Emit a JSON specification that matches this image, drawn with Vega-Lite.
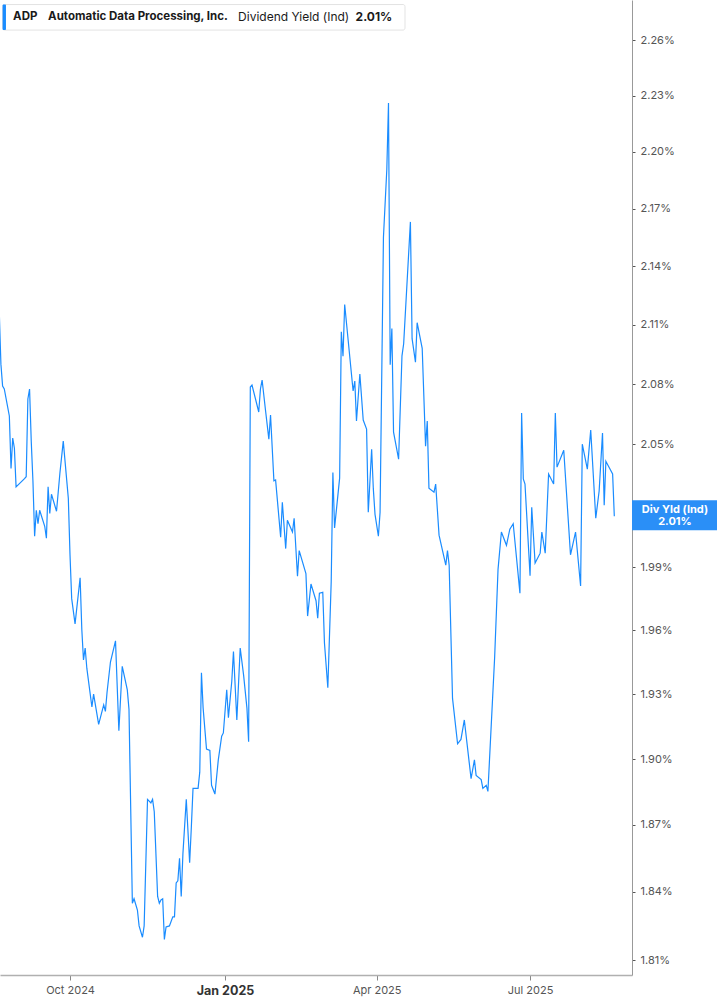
{
  "$schema": "https://vega.github.io/schema/vega-lite/v6.json",
  "width": 632,
  "height": 975,
  "autosize": {"type": "none"},
  "padding": {"left": 0, "top": 0, "right": 85, "bottom": 30},
  "background": "white",
  "config": {
    "view": {"stroke": null},
    "font": "Inter",
    "axis": {"labelFont": "Inter", "grid": false}
  },
  "data": {
    "values": [
      {"d": "2024-08-20", "v": 2.117}, {"d": "2024-08-21", "v": 2.090}, {"d": "2024-08-22", "v": 2.079},
      {"d": "2024-08-23", "v": 2.0775}, {"d": "2024-08-26", "v": 2.064}, {"d": "2024-08-27", "v": 2.038},
      {"d": "2024-08-28", "v": 2.053}, {"d": "2024-08-29", "v": 2.048}, {"d": "2024-08-30", "v": 2.029},
      {"d": "2024-09-04", "v": 2.033}, {"d": "2024-09-05", "v": 2.034}, {"d": "2024-09-06", "v": 2.0725},
      {"d": "2024-09-07", "v": 2.0775}, {"d": "2024-09-08", "v": 2.0515}, {"d": "2024-09-09", "v": 2.032},
      {"d": "2024-09-10", "v": 2.005}, {"d": "2024-09-11", "v": 2.0176}, {"d": "2024-09-12", "v": 2.011},
      {"d": "2024-09-13", "v": 2.0176}, {"d": "2024-09-16", "v": 2.0098}, {"d": "2024-09-17", "v": 2.004},
      {"d": "2024-09-18", "v": 2.029}, {"d": "2024-09-19", "v": 2.016}, {"d": "2024-09-20", "v": 2.0254},
      {"d": "2024-09-23", "v": 2.0171}, {"d": "2024-09-25", "v": 2.0357}, {"d": "2024-09-27", "v": 2.0515},
      {"d": "2024-09-30", "v": 2.0234}, {"d": "2024-10-01", "v": 1.996}, {"d": "2024-10-02", "v": 1.975},
      {"d": "2024-10-04", "v": 1.963}, {"d": "2024-10-07", "v": 1.985}, {"d": "2024-10-08", "v": 1.9605},
      {"d": "2024-10-09", "v": 1.946}, {"d": "2024-10-10", "v": 1.9516}, {"d": "2024-10-11", "v": 1.942},
      {"d": "2024-10-14", "v": 1.924}, {"d": "2024-10-15", "v": 1.930}, {"d": "2024-10-18", "v": 1.916},
      {"d": "2024-10-21", "v": 1.925}, {"d": "2024-10-22", "v": 1.922}, {"d": "2024-10-23", "v": 1.931},
      {"d": "2024-10-25", "v": 1.945}, {"d": "2024-10-28", "v": 1.955}, {"d": "2024-10-30", "v": 1.913},
      {"d": "2024-11-01", "v": 1.943}, {"d": "2024-11-04", "v": 1.932}, {"d": "2024-11-05", "v": 1.923},
      {"d": "2024-11-07", "v": 1.835}, {"d": "2024-11-08", "v": 1.837}, {"d": "2024-11-10", "v": 1.832},
      {"d": "2024-11-11", "v": 1.825}, {"d": "2024-11-13", "v": 1.820}, {"d": "2024-11-14", "v": 1.825},
      {"d": "2024-11-16", "v": 1.8816}, {"d": "2024-11-18", "v": 1.880}, {"d": "2024-11-19", "v": 1.8816},
      {"d": "2024-11-20", "v": 1.876}, {"d": "2024-11-22", "v": 1.838}, {"d": "2024-11-23", "v": 1.835},
      {"d": "2024-11-24", "v": 1.8365}, {"d": "2024-11-25", "v": 1.837}, {"d": "2024-11-26", "v": 1.819},
      {"d": "2024-11-27", "v": 1.8245}, {"d": "2024-11-29", "v": 1.825}, {"d": "2024-12-01", "v": 1.829},
      {"d": "2024-12-02", "v": 1.829}, {"d": "2024-12-03", "v": 1.844}, {"d": "2024-12-04", "v": 1.845},
      {"d": "2024-12-05", "v": 1.855}, {"d": "2024-12-06", "v": 1.838}, {"d": "2024-12-07", "v": 1.857},
      {"d": "2024-12-09", "v": 1.8816}, {"d": "2024-12-11", "v": 1.853}, {"d": "2024-12-12", "v": 1.869},
      {"d": "2024-12-13", "v": 1.8866}, {"d": "2024-12-16", "v": 1.8866}, {"d": "2024-12-17", "v": 1.894},
      {"d": "2024-12-18", "v": 1.940}, {"d": "2024-12-19", "v": 1.9235}, {"d": "2024-12-21", "v": 1.9046},
      {"d": "2024-12-23", "v": 1.904}, {"d": "2024-12-24", "v": 1.888}, {"d": "2024-12-26", "v": 1.884},
      {"d": "2024-12-28", "v": 1.8996}, {"d": "2024-12-30", "v": 1.9105}, {"d": "2024-12-31", "v": 1.912},
      {"d": "2025-01-02", "v": 1.932}, {"d": "2025-01-03", "v": 1.919}, {"d": "2025-01-05", "v": 1.936},
      {"d": "2025-01-06", "v": 1.950}, {"d": "2025-01-08", "v": 1.918}, {"d": "2025-01-10", "v": 1.9516},
      {"d": "2025-01-12", "v": 1.939}, {"d": "2025-01-14", "v": 1.9235}, {"d": "2025-01-15", "v": 1.908},
      {"d": "2025-01-16", "v": 2.0785}, {"d": "2025-01-17", "v": 2.0795}, {"d": "2025-01-21", "v": 2.066},
      {"d": "2025-01-22", "v": 2.0775}, {"d": "2025-01-23", "v": 2.082}, {"d": "2025-01-25", "v": 2.067},
      {"d": "2025-01-27", "v": 2.0525}, {"d": "2025-01-28", "v": 2.0645}, {"d": "2025-01-30", "v": 2.032},
      {"d": "2025-01-31", "v": 2.0324}, {"d": "2025-02-03", "v": 2.0045}, {"d": "2025-02-04", "v": 2.0215},
      {"d": "2025-02-06", "v": 1.999}, {"d": "2025-02-07", "v": 2.0127}, {"d": "2025-02-10", "v": 2.007},
      {"d": "2025-02-11", "v": 2.0137}, {"d": "2025-02-13", "v": 1.9857}, {"d": "2025-02-14", "v": 1.998},
      {"d": "2025-02-18", "v": 1.987}, {"d": "2025-02-19", "v": 1.9667}, {"d": "2025-02-21", "v": 1.982},
      {"d": "2025-02-24", "v": 1.974}, {"d": "2025-02-25", "v": 1.9657}, {"d": "2025-02-26", "v": 1.9776},
      {"d": "2025-02-28", "v": 1.978}, {"d": "2025-03-01", "v": 1.954}, {"d": "2025-03-03", "v": 1.933},
      {"d": "2025-03-05", "v": 1.983}, {"d": "2025-03-06", "v": 2.036}, {"d": "2025-03-07", "v": 2.009},
      {"d": "2025-03-10", "v": 2.0333}, {"d": "2025-03-11", "v": 2.1064}, {"d": "2025-03-12", "v": 2.094},
      {"d": "2025-03-13", "v": 2.1203}, {"d": "2025-03-18", "v": 2.0765}, {"d": "2025-03-19", "v": 2.0815},
      {"d": "2025-03-20", "v": 2.0615}, {"d": "2025-03-22", "v": 2.085}, {"d": "2025-03-24", "v": 2.062},
      {"d": "2025-03-26", "v": 2.0575}, {"d": "2025-03-27", "v": 2.0166}, {"d": "2025-03-29", "v": 2.0475},
      {"d": "2025-03-30", "v": 2.028}, {"d": "2025-03-31", "v": 2.0156}, {"d": "2025-04-02", "v": 2.005},
      {"d": "2025-04-03", "v": 2.0166}, {"d": "2025-04-05", "v": 2.155}, {"d": "2025-04-07", "v": 2.1905},
      {"d": "2025-04-08", "v": 2.226}, {"d": "2025-04-09", "v": 2.0897}, {"d": "2025-04-10", "v": 2.108},
      {"d": "2025-04-11", "v": 2.056}, {"d": "2025-04-14", "v": 2.0426}, {"d": "2025-04-16", "v": 2.0942},
      {"d": "2025-04-17", "v": 2.1003}, {"d": "2025-04-21", "v": 2.163}, {"d": "2025-04-22", "v": 2.1029},
      {"d": "2025-04-24", "v": 2.091}, {"d": "2025-04-25", "v": 2.111}, {"d": "2025-04-28", "v": 2.098},
      {"d": "2025-04-30", "v": 2.049}, {"d": "2025-05-01", "v": 2.0615}, {"d": "2025-05-02", "v": 2.0284},
      {"d": "2025-05-05", "v": 2.0264}, {"d": "2025-05-06", "v": 2.0304}, {"d": "2025-05-08", "v": 2.0055},
      {"d": "2025-05-12", "v": 1.991}, {"d": "2025-05-13", "v": 1.998}, {"d": "2025-05-14", "v": 1.991},
      {"d": "2025-05-16", "v": 1.928}, {"d": "2025-05-19", "v": 1.907}, {"d": "2025-05-21", "v": 1.909},
      {"d": "2025-05-23", "v": 1.918}, {"d": "2025-05-27", "v": 1.891}, {"d": "2025-05-29", "v": 1.8996},
      {"d": "2025-05-30", "v": 1.8925}, {"d": "2025-06-02", "v": 1.8906}, {"d": "2025-06-03", "v": 1.8866},
      {"d": "2025-06-05", "v": 1.888}, {"d": "2025-06-06", "v": 1.8852}, {"d": "2025-06-10", "v": 1.9474},
      {"d": "2025-06-12", "v": 1.989}, {"d": "2025-06-14", "v": 2.007}, {"d": "2025-06-17", "v": 2.0006},
      {"d": "2025-06-19", "v": 2.0084}, {"d": "2025-06-21", "v": 2.011}, {"d": "2025-06-25", "v": 1.9776},
      {"d": "2025-06-26", "v": 2.0655}, {"d": "2025-06-27", "v": 2.0329}, {"d": "2025-06-28", "v": 2.0304},
      {"d": "2025-07-01", "v": 1.986}, {"d": "2025-07-02", "v": 2.019}, {"d": "2025-07-04", "v": 1.992},
      {"d": "2025-07-07", "v": 1.9968}, {"d": "2025-07-08", "v": 2.007}, {"d": "2025-07-10", "v": 1.9968},
      {"d": "2025-07-12", "v": 2.0353}, {"d": "2025-07-15", "v": 2.0304}, {"d": "2025-07-16", "v": 2.0655},
      {"d": "2025-07-17", "v": 2.0387}, {"d": "2025-07-21", "v": 2.047}, {"d": "2025-07-25", "v": 1.996},
      {"d": "2025-07-28", "v": 2.007}, {"d": "2025-07-31", "v": 1.981}, {"d": "2025-08-01", "v": 2.05},
      {"d": "2025-08-04", "v": 2.0377}, {"d": "2025-08-06", "v": 2.057}, {"d": "2025-08-09", "v": 2.0137},
      {"d": "2025-08-11", "v": 2.027}, {"d": "2025-08-13", "v": 2.0555}, {"d": "2025-08-14", "v": 2.02},
      {"d": "2025-08-15", "v": 2.0416}, {"d": "2025-08-16", "v": 2.040}, {"d": "2025-08-19", "v": 2.0353},
      {"d": "2025-08-20", "v": 2.0147}
    ]
  },
  "layer": [
    {
      "mark": {"type": "line", "color": "#1a8cff", "strokeWidth": 1.2},
      "encoding": {
        "x": {
          "field": "d",
          "type": "temporal",
          "title": null,
          "scale": {
            "type": "utc",
            "domain": [
              {"year": 2024, "month": 8, "date": 20, "hours": 11, "utc": true},
              {"year": 2025, "month": 8, "date": 30, "hours": 12, "utc": true}
            ]
          },
          "axis": {
            "orient": "bottom",
            "values": [
              {"year": 2024, "month": 10, "date": 1, "utc": true},
              {"year": 2025, "month": 1, "date": 1, "utc": true},
              {"year": 2025, "month": 4, "date": 1, "utc": true},
              {"year": 2025, "month": 7, "date": 1, "utc": true}
            ],
            "labelExpr": "utcFormat(datum.value, '%b %Y')",
            "domainColor": "#b0b0b0",
            "domainWidth": 1.5,
            "tickColor": "#888",
            "tickSize": 5,
            "labelColor": {"condition": {"test": "utcmonth(datum.value) == 0", "value": "#333"}, "value": "#555"},
            "labelFontWeight": {"condition": {"test": "utcmonth(datum.value) == 0", "value": "bold"}, "value": "normal"},
            "labelFontSize": {"condition": {"test": "utcmonth(datum.value) == 0", "value": 12.5}, "value": 11},
            "labelPadding": 4
          }
        },
        "y": {
          "field": "v",
          "type": "quantitative",
          "title": null,
          "scale": {"type": "log", "domain": [1.8035, 2.282], "nice": false, "zero": false},
          "axis": {
            "orient": "right",
            "values": [1.81, 1.84, 1.87, 1.90, 1.93, 1.96, 1.99, 2.02, 2.05, 2.08, 2.11, 2.14, 2.17, 2.20, 2.23, 2.26],
            "labelExpr": "abs(datum.value - 2.02) < 0.001 ? '' : format(datum.value, '.2f') + '%'",
            "domainColor": "#999",
            "tickColor": "#555",
            "tickSize": 3,
            "labelColor": "#555",
            "labelFontSize": 11,
            "labelPadding": 5
          }
        }
      }
    },
    {
      "data": {"values": [{}]},
      "layer": [
        {
          "mark": {"type": "rect", "fill": "white", "stroke": "#e3e3e3", "strokeWidth": 1, "cornerRadius": 2},
          "encoding": {
            "x": {"datum": {"year": 2024, "month": 8, "date": 22, "utc": true}, "type": "temporal"},
            "x2": {"datum": {"year": 2025, "month": 4, "date": 17, "hours": 19, "utc": true}},
            "y": {"datum": 2.2795, "type": "quantitative"},
            "y2": {"datum": 2.2655}
          }
        },
        {
          "mark": {"type": "rect", "fill": "#1a8cff", "cornerRadius": 1},
          "encoding": {
            "x": {"datum": {"year": 2024, "month": 8, "date": 22, "utc": true}, "type": "temporal"},
            "x2": {"datum": {"year": 2024, "month": 8, "date": 24, "utc": true}},
            "y": {"datum": 2.2795, "type": "quantitative"},
            "y2": {"datum": 2.2655}
          }
        },
        {
          "mark": {"type": "text", "align": "left", "baseline": "middle", "dx": 10.5, "fontWeight": "bold", "fontSize": 11.5, "color": "#1a1a1a"},
          "encoding": {
            "x": {"datum": {"year": 2024, "month": 8, "date": 22, "utc": true}, "type": "temporal"},
            "y": {"datum": 2.2726, "type": "quantitative"},
            "text": {"value": "ADP"}
          }
        },
        {
          "mark": {"type": "text", "align": "left", "baseline": "middle", "dx": 45.5, "fontWeight": "bold", "fontSize": 11.5, "limit": 183, "color": "#1a1a1a"},
          "encoding": {
            "x": {"datum": {"year": 2024, "month": 8, "date": 22, "utc": true}, "type": "temporal"},
            "y": {"datum": 2.2726, "type": "quantitative"},
            "text": {"value": "Automatic Data Processing, Inc."}
          }
        },
        {
          "mark": {"type": "text", "align": "left", "baseline": "middle", "dx": 235.5, "fontWeight": "normal", "fontSize": 12, "color": "#1a1a1a"},
          "encoding": {
            "x": {"datum": {"year": 2024, "month": 8, "date": 22, "utc": true}, "type": "temporal"},
            "y": {"datum": 2.2726, "type": "quantitative"},
            "text": {"value": "Dividend Yield (Ind)"}
          }
        },
        {
          "mark": {"type": "text", "align": "left", "baseline": "middle", "dx": 353, "fontWeight": "bold", "fontSize": 12, "color": "#1a1a1a"},
          "encoding": {
            "x": {"datum": {"year": 2024, "month": 8, "date": 22, "utc": true}, "type": "temporal"},
            "y": {"datum": 2.2726, "type": "quantitative"},
            "text": {"value": "2.01%"}
          }
        },
        {
          "mark": {"type": "rect", "fill": "#2a8ff7"},
          "encoding": {
            "x": {"datum": {"year": 2025, "month": 8, "date": 30, "hours": 12, "utc": true}, "type": "temporal"},
            "x2": {"datum": {"year": 2025, "month": 10, "date": 21, "utc": true}},
            "y": {"datum": 2.0224, "type": "quantitative"},
            "y2": {"datum": 2.0079}
          }
        },
        {
          "mark": {"type": "text", "align": "center", "baseline": "middle", "fontWeight": "bold", "fontSize": 11, "color": "white"},
          "encoding": {
            "x": {"datum": {"year": 2025, "month": 9, "date": 25, "utc": true}, "type": "temporal"},
            "y": {"datum": 2.0179, "type": "quantitative"},
            "text": {"value": "Div Yld (Ind)"}
          }
        },
        {
          "mark": {"type": "text", "align": "center", "baseline": "middle", "fontWeight": "bold", "fontSize": 11, "color": "white"},
          "encoding": {
            "x": {"datum": {"year": 2025, "month": 9, "date": 25, "utc": true}, "type": "temporal"},
            "y": {"datum": 2.0118, "type": "quantitative"},
            "text": {"value": "2.01%"}
          }
        }
      ]
    }
  ]
}
